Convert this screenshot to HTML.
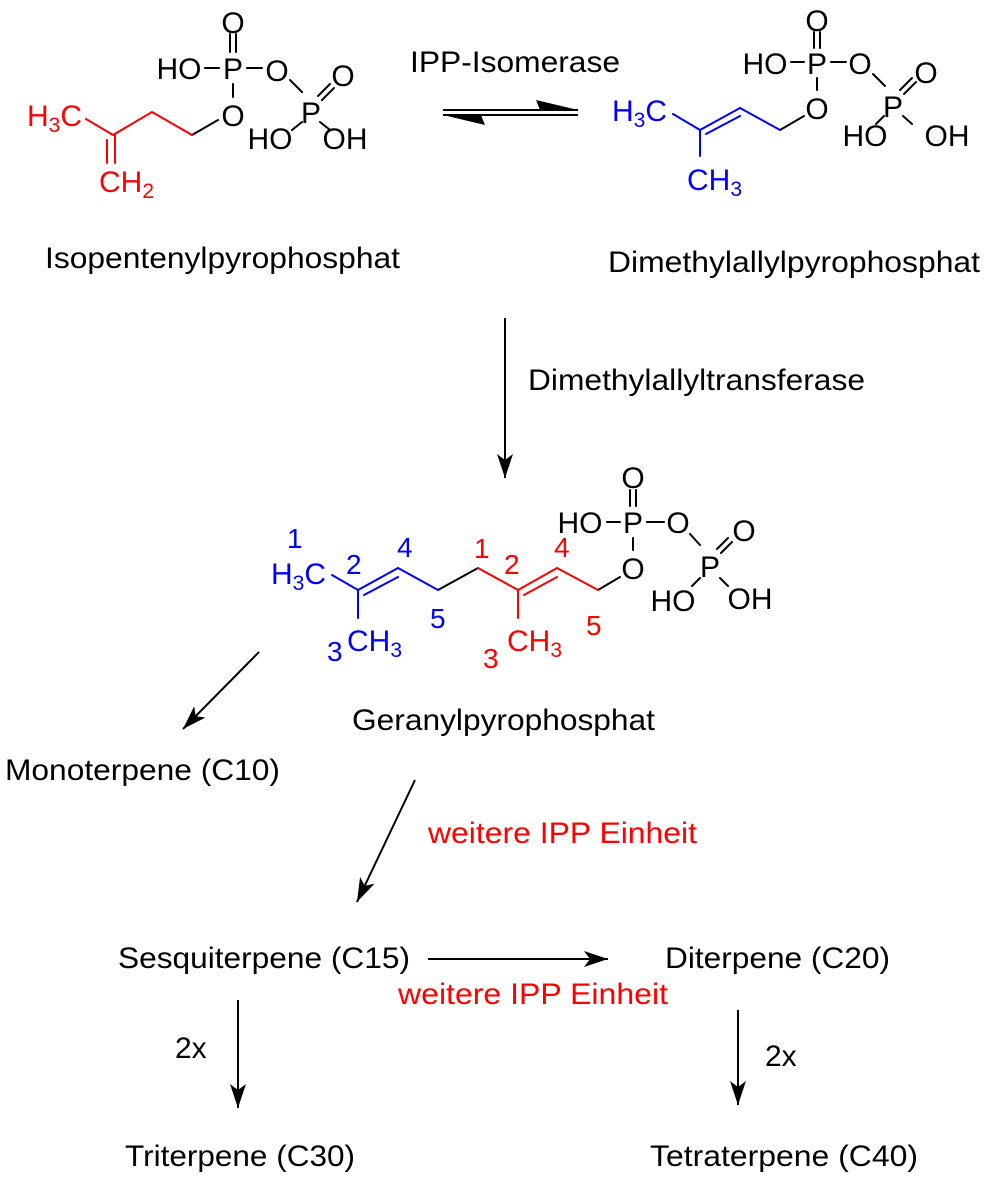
<!DOCTYPE html>
<html><head><meta charset="utf-8"><style>
html,body{margin:0;padding:0;background:#fff;}
svg{display:block;}
text{font-family:"Liberation Sans",sans-serif;}
</style></head><body>
<svg width="985" height="1177" viewBox="0 0 985 1177" xmlns="http://www.w3.org/2000/svg">
<defs>
<marker id="ah" markerUnits="userSpaceOnUse" markerWidth="30" markerHeight="20" refX="0" refY="0" viewBox="-24 -10 26 20" orient="auto">
<path d="M0,0 L-24,-8 L-18,0 L-24,8 Z" fill="#000"/>
</marker>
</defs>
<g stroke-width="2" fill="none" stroke-linecap="round">
<g stroke="#000">
<line x1="230" y1="34" x2="230" y2="52"/><line x1="236" y1="34" x2="236" y2="52"/>
<line x1="205" y1="68" x2="219" y2="68"/><line x1="247" y1="68" x2="262" y2="68"/>
<line x1="233" y1="84" x2="233" y2="97"/>
<line x1="290" y1="80" x2="302" y2="92"/>
<line x1="318" y1="96" x2="330" y2="84"/><line x1="322" y1="100" x2="334" y2="88"/>
<line x1="302" y1="122" x2="292" y2="130"/><line x1="320" y1="122" x2="330" y2="130"/>
<line x1="192" y1="135" x2="218" y2="120"/>
</g>
<g stroke="#f00">
<line x1="192" y1="135" x2="152" y2="112"/><line x1="152" y1="112" x2="113" y2="135"/>
<line x1="113" y1="135" x2="86" y2="119"/>
<line x1="115" y1="135" x2="115" y2="163"/><line x1="107" y1="140" x2="107" y2="163"/>
</g>
<g stroke="#000">
<line x1="814" y1="32" x2="814" y2="48"/><line x1="820" y1="32" x2="820" y2="48"/>
<line x1="791" y1="62" x2="804" y2="62"/><line x1="831" y1="62" x2="846" y2="62"/>
<line x1="817" y1="78" x2="817" y2="90"/>
<line x1="873" y1="74" x2="885" y2="86"/>
<line x1="900" y1="90" x2="912" y2="78"/><line x1="904" y1="94" x2="916" y2="82"/>
<line x1="884" y1="116" x2="876" y2="124"/><line x1="903" y1="116" x2="912" y2="124"/>
<line x1="780" y1="130" x2="804" y2="116"/>
</g>
<g stroke="#00f">
<line x1="780" y1="130" x2="740" y2="108"/><line x1="740" y1="108" x2="700" y2="130"/>
<line x1="706" y1="134" x2="740" y2="116"/>
<line x1="700" y1="130" x2="673" y2="114"/>
<line x1="700" y1="130" x2="700" y2="156"/>
</g>
<g stroke="#000">
<line x1="630" y1="490" x2="630" y2="506"/><line x1="636" y1="490" x2="636" y2="506"/>
<line x1="607" y1="522" x2="620" y2="522"/><line x1="647" y1="522" x2="664" y2="522"/>
<line x1="633" y1="538" x2="633" y2="550"/>
<line x1="690" y1="534" x2="700" y2="545"/>
<line x1="717" y1="549" x2="728" y2="538"/><line x1="721" y1="553" x2="732" y2="542"/>
<line x1="700" y1="578" x2="692" y2="586"/><line x1="720" y1="578" x2="728" y2="586"/>
<line x1="598" y1="590" x2="620" y2="577"/>
<line x1="438" y1="590" x2="478" y2="568"/>
</g>
<g stroke="#f00">
<line x1="478" y1="568" x2="518" y2="590"/><line x1="518" y1="590" x2="557" y2="568"/>
<line x1="524" y1="595" x2="557" y2="577"/>
<line x1="557" y1="568" x2="598" y2="590"/>
<line x1="518" y1="590" x2="518" y2="618"/>
</g>
<g stroke="#00f">
<line x1="438" y1="590" x2="398" y2="568"/><line x1="398" y1="568" x2="358" y2="590"/>
<line x1="364" y1="595" x2="398" y2="577"/>
<line x1="358" y1="590" x2="332" y2="575"/>
<line x1="358" y1="590" x2="358" y2="618"/>
</g>
</g>
<g stroke="#000" stroke-width="2" fill="none">
<line x1="505" y1="318" x2="505" y2="478" marker-end="url(#ah)"/>
<line x1="259" y1="652" x2="183" y2="729" marker-end="url(#ah)"/>
<line x1="415" y1="780" x2="357" y2="902" marker-end="url(#ah)"/>
<line x1="428" y1="959" x2="608" y2="959" marker-end="url(#ah)"/>
<line x1="238" y1="1000" x2="238" y2="1108" marker-end="url(#ah)"/>
<line x1="738" y1="1010" x2="738" y2="1105" marker-end="url(#ah)"/>
<line x1="443" y1="110" x2="578" y2="110"/>
<line x1="443" y1="115" x2="578" y2="115"/>
</g>
<path d="M578,110 L536,100 L540,110 Z" fill="#000"/>
<path d="M443,115 L485,125 L481,115 Z" fill="#000"/>
<g font-size="30" fill="#000" text-anchor="middle">
<text x="233" y="33">O</text><text x="179" y="79">HO</text><text x="233" y="79">P</text><text x="277" y="81">O</text>
<text x="233" y="126">O</text><text x="311" y="123">P</text><text x="343" y="86">O</text>
<text x="270" y="149">HO</text><text x="345" y="149">OH</text>
<text x="817" y="31">O</text><text x="765" y="74">HO</text><text x="817" y="74">P</text><text x="860" y="74">O</text>
<text x="817" y="119">O</text><text x="893" y="117">P</text><text x="926" y="83">O</text>
<text x="865" y="146">HO</text><text x="947" y="146">OH</text>
<text x="633" y="488">O</text><text x="580" y="533">HO</text><text x="633" y="533">P</text><text x="678" y="533">O</text>
<text x="633" y="579">O</text><text x="710" y="577">P</text><text x="744" y="541">O</text>
<text x="673" y="611">HO</text><text x="750" y="609">OH</text>
</g>
<g font-size="30" fill="#f00">
<text x="27" y="126">H<tspan font-size="21" dy="6">3</tspan><tspan dy="-6">C</tspan></text>
<text x="99" y="192">CH<tspan font-size="21" dy="6">2</tspan></text>
</g>
<g font-size="30" fill="#00f">
<text x="612" y="121">H<tspan font-size="21" dy="6">3</tspan><tspan dy="-6">C</tspan></text>
<text x="687" y="190">CH<tspan font-size="21" dy="6">3</tspan></text>
<text x="271" y="584">H<tspan font-size="21" dy="6">3</tspan><tspan dy="-6">C</tspan></text>
<text x="347" y="651">CH<tspan font-size="21" dy="6">3</tspan></text>
<text font-size="28" x="287" y="548">1</text><text font-size="28" x="346" y="574">2</text>
<text font-size="28" x="397" y="557">4</text><text font-size="28" x="430" y="628">5</text>
<text font-size="28" x="327" y="661">3</text>
</g>
<g font-size="30" fill="#f00">
<text x="507" y="651">CH<tspan font-size="21" dy="6">3</tspan></text>
<text font-size="28" x="474" y="558">1</text><text font-size="28" x="504" y="574">2</text>
<text font-size="28" x="554" y="557">4</text><text font-size="28" x="586" y="635">5</text>
<text font-size="28" x="483" y="668">3</text>
</g>
<g font-size="30" fill="#000">
<text x="410" y="72" textLength="210" lengthAdjust="spacingAndGlyphs">IPP-Isomerase</text>
<text x="45" y="268" textLength="355" lengthAdjust="spacingAndGlyphs">Isopentenylpyrophosphat</text>
<text x="608" y="272" textLength="372" lengthAdjust="spacingAndGlyphs">Dimethylallylpyrophosphat</text>
<text x="528" y="390" textLength="337" lengthAdjust="spacingAndGlyphs">Dimethylallyltransferase</text>
<text x="352" y="730" textLength="303" lengthAdjust="spacingAndGlyphs">Geranylpyrophosphat</text>
<text x="5" y="780" textLength="275" lengthAdjust="spacingAndGlyphs">Monoterpene (C10)</text>
<text x="118" y="968" textLength="292" lengthAdjust="spacingAndGlyphs">Sesquiterpene (C15)</text>
<text x="665" y="968" textLength="225" lengthAdjust="spacingAndGlyphs">Diterpene (C20)</text>
<text x="175" y="1058">2x</text>
<text x="765" y="1066">2x</text>
<text x="125" y="1166" textLength="230" lengthAdjust="spacingAndGlyphs">Triterpene (C30)</text>
<text x="650" y="1166" textLength="268" lengthAdjust="spacingAndGlyphs">Tetraterpene (C40)</text>
</g>
<g font-size="30" fill="#f00">
<text x="428" y="843" textLength="269" lengthAdjust="spacingAndGlyphs">weitere IPP Einheit</text>
<text x="398" y="1004" textLength="270" lengthAdjust="spacingAndGlyphs">weitere IPP Einheit</text>
</g>
</svg>
</body></html>
